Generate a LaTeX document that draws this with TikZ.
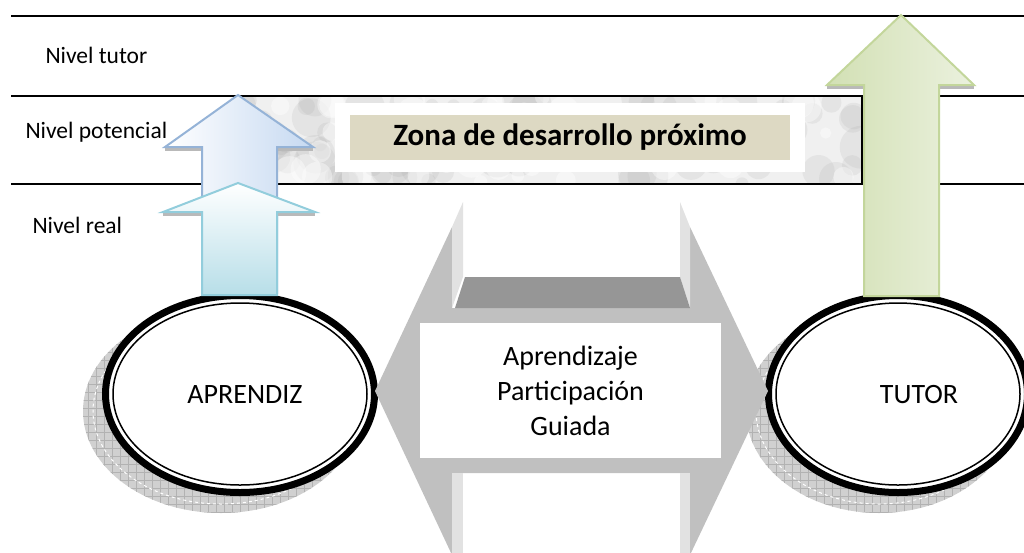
\documentclass[tikz,border=0pt]{standalone}
\usepackage{fontspec}
\setmainfont{Carlito}
\usetikzlibrary{shapes,patterns.meta}

\definecolor{midgray}{HTML}{C0C0C0}
\definecolor{lightgray}{HTML}{E2E2E2}
\definecolor{darkgray}{HTML}{969696}
\definecolor{shadowgray}{HTML}{D0D0D0}
\definecolor{tan}{HTML}{DDD9C3}
\definecolor{bluefill}{HTML}{C6D9F1}
\definecolor{blueline}{HTML}{95B3D7}
\definecolor{aquafill}{HTML}{B7DEE8}
\definecolor{aqualine}{HTML}{92CDDC}
\definecolor{greenfill}{HTML}{D2E0B4}
\definecolor{greenlight}{HTML}{EBF1DE}
\definecolor{greenline}{HTML}{C3D69B}

\tikzset{
every picture/.style={
line width=1pt
}}

\begin{document}
\begin{tikzpicture}[x=1pt, y=-1pt,
level/.style = {anchor=west, inner sep=0pt, font=\fontsize{23.5}{28}\selectfont},
ring/.style = {ellipse, draw=black, fill=white, line width=7pt, minimum width=269pt, minimum height=197pt},
innerring/.style = {ellipse, draw=black, line width=1.5pt, minimum width=254pt, minimum height=182pt, font=\fontsize{28}{34}\selectfont},
shadow/.style = {preaction={fill=shadowgray}, pattern={Hatch[angle=0,distance=8pt,line width=0.4pt]}, pattern color=gray!60},
wing/.style = {fill=gray!55},
guide/.style = {fill=white, minimum width=301pt, minimum height=135pt, align=center, font=\fontsize{28}{35}\selectfont}]

\useasboundingbox (0,0) rectangle (1024,552);
\clip (0,0) rectangle (1024,552);

\begin{scope}
\clip (237,96) rectangle (862,184);
\fill[gray!12] (237,96) rectangle (862,184);
\pgfmathsetseed{7}
\foreach \k in {1,...,90}{
\pgfmathsetmacro\bx{237+625*rnd}
\pgfmathsetmacro\by{96+88*rnd}
\pgfmathsetmacro\br{6+16*rnd}
\fill[gray!80, opacity=0.13] (\bx,\by) circle (\br pt);
}
\foreach \k in {1,...,50}{
\pgfmathsetmacro\bx{237+625*rnd}
\pgfmathsetmacro\by{96+88*rnd}
\pgfmathsetmacro\br{5+12*rnd}
\fill[white, opacity=0.4] (\bx,\by) circle (\br pt);
}
\end{scope}
\draw[line width=2pt] (237,96) rectangle (862,184);

\draw[line width=2pt] (11,16) -- (1024,16);
\draw[line width=2pt] (11,96) -- (1024,96);
\draw[line width=2pt] (11,184) -- (1024,184);

\node[level] (tutorlevel) at (45,55) {Nivel tutor};
\node[level] (potlevel) at (25,132) {Nivel potencial};
\node[level] (reallevel) at (32,225) {Nivel real};

\node[fill=white, minimum width=470pt, minimum height=69pt] (zonebox) at (570,137.5) {};
\node[fill=tan, minimum width=440pt, minimum height=45pt, font=\fontsize{31}{36}\selectfont\bfseries] (zona) at (570,137.5) {Zona de desarrollo próximo};

\fill[shadow] (221,411) ellipse [x radius=138pt, y radius=102pt];
\draw[white, dashed, line width=1pt] (221,411) ellipse [x radius=128pt, y radius=93pt];
\fill[shadow] (879,411) ellipse [x radius=133pt, y radius=102pt];
\draw[white, dashed, line width=1pt] (879,411) ellipse [x radius=123pt, y radius=93pt];

\node[ring] (aprendiz) at (240,394) {};
\node[innerring] (aprendizin) at (240,394) {};
\node[font=\fontsize{28}{34}\selectfont] (aprendiztext) at (245,395) {APRENDIZ};
\node[ring, minimum width=259pt] (tutor) at (898,394) {};
\node[innerring, minimum width=244pt] (tutorin) at (898,394) {};
\node[font=\fontsize{28}{34}\selectfont] (tutortext) at (919,395) {TUTOR};

\fill[wing] (165,147) rectangle (202,151);
\fill[wing] (277,147) rectangle (313,151);
\draw[draw=blueline, line width=2pt, left color=white, right color=bluefill, line join=miter]
(238,95) -- (313,147) -- (277,147) -- (277,293) -- (202,293) -- (202,147) -- (165,147) -- cycle;
\fill[wing] (163,212) rectangle (202,216);
\fill[wing] (277,212) rectangle (315,216);
\draw[draw=aqualine, line width=2pt, top color=white, bottom color=aquafill, line join=miter]
(238,183) -- (315,212) -- (277,212) -- (277,295) -- (202,295) -- (202,212) -- (163,212) -- cycle;

\fill[wing] (827,85) rectangle (864,89);
\fill[wing] (939,85) rectangle (974,89);
\draw[draw=greenline, line width=2pt, left color=greenfill, right color=greenlight, line join=miter]
(901,15) -- (974,85) -- (939,85) -- (939,296) -- (864,296) -- (864,85) -- (827,85) -- cycle;

\fill[midgray] (375,391) -- (452,227) -- (452,308) -- (690,308) -- (690,227) -- (768,391)
-- (690,555) -- (690,473) -- (452,473) -- (452,555) -- cycle;
\fill[lightgray] (452,227) -- (463,202) -- (463,277) -- (452,308) -- cycle;
\fill[lightgray] (690,227) -- (680,202) -- (680,277) -- (690,308) -- cycle;
\fill[lightgray] (452,473) rectangle (463,555);
\fill[lightgray] (680,473) rectangle (690,555);
\fill[darkgray] (455,308) -- (465,277) -- (680,277) -- (690,308) -- cycle;

\node[guide] (guided) at (570.5,390.5) {Aprendizaje\\Participación\\Guiada};
\end{tikzpicture}
\end{document}
